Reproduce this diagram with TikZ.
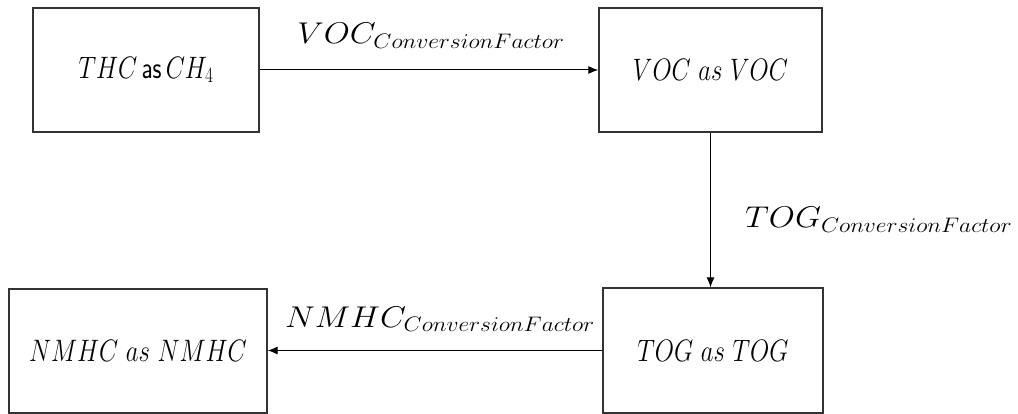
\RequirePackage{fix-cm}
\documentclass[tikz,border=0pt]{standalone}
\usetikzlibrary{arrows.meta,calc}
\newcommand{\boxtxt}[1]{\scalebox{0.8}[1]{#1}}
\newcommand{\lbltxt}[1]{\scalebox{1.12}[1]{#1}}
\begin{document}
\begin{tikzpicture}[x=1pt,y=-1pt,
  box/.style={draw=black!80,line width=1.3pt,rectangle,inner sep=0pt,
    font=\fontsize{31}{36}\selectfont},
  conn/.style={line width=1pt,-{Latex[length=10pt,width=8pt]}},
  lbl/.style={font=\fontsize{30}{34}\selectfont,inner sep=0pt}]
\useasboundingbox (0,0) rectangle (1018,414);
\node[box,minimum width=226pt,minimum height=124pt] (b1) at (146,70) {\boxtxt{$THC$\,\textsf{as}\,$CH_4$}};
\node[box,minimum width=223pt,minimum height=124pt] (b2) at (710.5,70) {\boxtxt{$VOC\ as\ VOC$}};
\node[box,minimum width=220pt,minimum height=125pt] (b3) at (713,350.5) {\boxtxt{$TOG\ as\ TOG$}};
\node[box,minimum width=258pt,minimum height=124pt] (b4) at (138,351) {\boxtxt{$NMHC\ as\ NMHC$}};
\draw[conn] (b1.east) -- (b2.west);
\draw[conn] (b2.south) -- (b2.south |- b3.north);
\draw[conn] (b3.west) -- (b3.west -| b4.east);
\node[lbl] (l1) at (431,36) {\lbltxt{$VOC_{ConversionFactor}$}};
\node[lbl,anchor=west] (l2) at (745,220) {\lbltxt{$TOG_{ConversionFactor}$}};
\node[lbl] (l3) at (440,319) {\lbltxt{$NMHC_{ConversionFactor}$}};
\end{tikzpicture}
\end{document}
